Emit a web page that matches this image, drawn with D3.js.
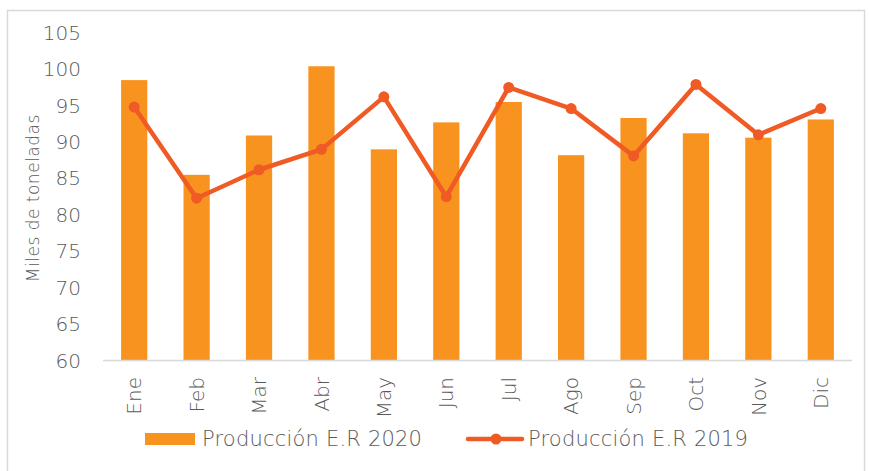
<!DOCTYPE html>
<html>
<head>
<meta charset="utf-8">
<script src="https://cdn.jsdelivr.net/npm/d3@7"></script>
<style>
  html, body { margin: 0; padding: 0; background: #fff; }
  svg { display: block; font-family: "DejaVu Sans", sans-serif; font-weight: 200; }
</style>
</head>
<body>
<div class="app"></div>
<script>
// Data
const months = ['Ene', 'Feb', 'Mar', 'Abr', 'May', 'Jun', 'Jul', 'Ago', 'Sep', 'Oct', 'Nov', 'Dic'];
const prod2020 = [98.4, 85.4, 90.8, 100.3, 88.9, 92.6, 95.4, 88.1, 93.2, 91.1, 90.5, 93.0];
const prod2019 = [94.7, 82.2, 86.1, 88.9, 96.1, 82.4, 97.4, 94.5, 88.0, 97.8, 90.9, 94.5];
const yTicks = [60, 65, 70, 75, 80, 85, 90, 95, 100, 105];

const width = 869;
const height = 471;
const BAR_COLOR = '#F7931E';
const LINE_COLOR = '#F05A24';
const TEXT_COLOR = '#595959';

const svg = d3.select('.app')
  .append('svg')
  .attr('width', width)
  .attr('height', height);

// frame
svg.append('rect')
  .attr('x', 7.5).attr('y', 10.5)
  .attr('width', 857).attr('height', 470)
  .attr('fill', 'none')
  .attr('stroke', '#d9d9d9')
  .attr('stroke-width', 1.5);

// Scales
const x = d3.scaleBand()
  .domain(months)
  .range([103, 852])
  .paddingInner(0.58)
  .paddingOuter(0.29);

const y = d3.scaleLinear()
  .domain([60, 105])
  .range([360, 32]);

// Y axis
const yAxis = svg.append('g')
  .attr('transform', 'translate(81,0)')
  .call(d3.axisLeft(y).tickValues(yTicks).tickSize(0).tickPadding(0));
yAxis.select('.domain').remove();
yAxis.selectAll('text')
  .attr('fill', TEXT_COLOR)
  .attr('font-size', 20)
  .attr('font-family', '"DejaVu Sans", sans-serif')
  .attr('dy', '0.36em');

svg.append('text')
  .attr('transform', `translate(39,${y(82.2)}) rotate(-90)`)
  .attr('text-anchor', 'middle')
  .attr('fill', TEXT_COLOR)
  .attr('font-size', 17)
  .attr('letter-spacing', 0.5)
  .text('Miles de toneladas');

// Bars
svg.append('g')
  .selectAll('rect')
  .data(prod2020)
  .join('rect')
  .attr('x', (d, i) => x(months[i]))
  .attr('width', x.bandwidth())
  .attr('y', d => y(d))
  .attr('height', d => y(60) - y(d))
  .attr('fill', BAR_COLOR);

// Baseline
svg.append('line')
  .attr('x1', 103).attr('x2', 852)
  .attr('y1', y(60) + 0.5).attr('y2', y(60) + 0.5)
  .attr('stroke', '#d9d9d9')
  .attr('stroke-width', 1.5);

// X labels
const xAxis = svg.append('g')
  .attr('transform', `translate(0,${y(60)})`)
  .call(d3.axisBottom(x).tickSize(0).tickPadding(0));
xAxis.select('.domain').remove();
xAxis.selectAll('text')
  .attr('fill', TEXT_COLOR)
  .attr('font-size', 20)
  .attr('font-family', '"DejaVu Sans", sans-serif')
  .attr('transform', 'rotate(-90)')
  .attr('text-anchor', 'end')
  .attr('x', -17)
  .attr('y', 0)
  .attr('dy', '0.36em');

// Line
const line = d3.line()
  .x((d, i) => x(months[i]) + x.bandwidth() / 2)
  .y(d => y(d));

svg.append('path')
  .datum(prod2019)
  .attr('d', line)
  .attr('fill', 'none')
  .attr('stroke', LINE_COLOR)
  .attr('stroke-width', 4.5)
  .attr('stroke-linejoin', 'round');

svg.append('g')
  .selectAll('circle')
  .data(prod2019)
  .join('circle')
  .attr('cx', (d, i) => x(months[i]) + x.bandwidth() / 2)
  .attr('cy', d => y(d))
  .attr('r', 5.5)
  .attr('fill', LINE_COLOR);

// Legend
const legend = svg.append('g')
  .attr('font-size', 21)
  .attr('letter-spacing', 0.2)
  .attr('fill', TEXT_COLOR);
legend.append('rect')
  .attr('x', 145).attr('y', 433)
  .attr('width', 50).attr('height', 12)
  .attr('fill', BAR_COLOR);
legend.append('text')
  .attr('x', 202).attr('y', 438)
  .attr('dy', '0.36em')
  .text('Producción E.R 2020');

legend.append('line')
  .attr('x1', 468).attr('x2', 522)
  .attr('y1', 439).attr('y2', 439)
  .attr('stroke', LINE_COLOR)
  .attr('stroke-width', 4.5)
  .attr('stroke-linecap', 'round');
legend.append('circle')
  .attr('cx', 496).attr('cy', 439)
  .attr('r', 5.5)
  .attr('fill', LINE_COLOR);
legend.append('text')
  .attr('x', 528).attr('y', 438)
  .attr('dy', '0.36em')
  .text('Producción E.R 2019');
</script>
</body>
</html>
